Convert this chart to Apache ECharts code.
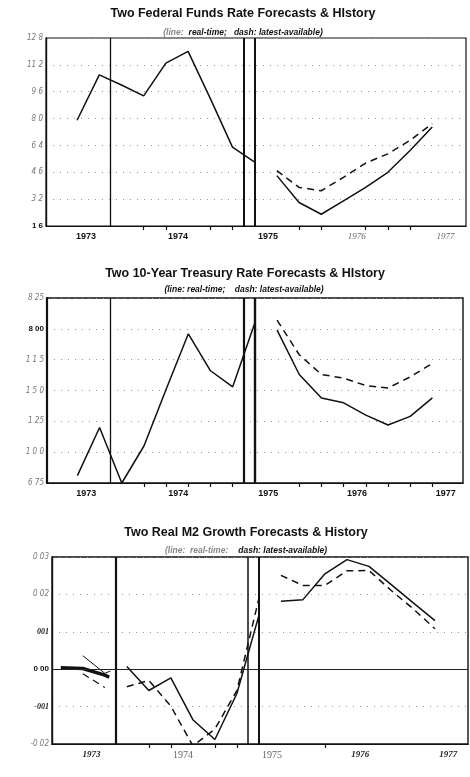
<!DOCTYPE html>
<html>
<head>
<meta charset="utf-8">
<script src="https://cdn.jsdelivr.net/npm/echarts@6/dist/echarts.min.js"></script>
<style>
  html, body { margin: 0; padding: 0; background: #fff; }
  #chart { width: 470px; height: 777px; }
</style>
</head>
<body>
<div id="chart"></div>
<script>
// quarter index: 0 = first quarter shown in 1973
var kHist = [0, 1, 2, 3, 4, 5, 6, 7, 8]
var kFcst = [9, 10, 11, 12, 13, 14, 15, 16]

var yearLabels = ['1973', '1974', '1975', '1976', '1977']
var yearPos = [0.4, 4.55, 8.6, 12.6, 16.6]

// federal funds
var fedTicks = ['1 6', '3 2', '4 6', '6 4', '8 0', '9 6', '11 2', '12 8']
var fedSolidHist = [7.9, 10.6, 10.0, 9.35, 11.3, 12.0, 9.2, 6.3, 5.4]
var fedSolidFcst = [4.6, 3.0, 2.3, 3.1, 3.9, 4.8, 6.1, 7.5]
var fedDashFcst = [4.9, 3.9, 3.7, 4.5, 5.35, 5.9, 6.7, 7.7]

// 10-year treasury
var tsyTicks = ['6 75', '1 0 0', '1 25', '1 5 0', '1 1 5', '8 00', '8 25']
var tsySolidHist = [6.81, 7.2, 6.75, 7.05, 7.51, 7.96, 7.66, 7.53, 8.05]
var tsySolidFcst = [7.99, 7.63, 7.44, 7.4, 7.3, 7.22, 7.29, 7.44]
var tsyDashFcst = [8.07, 7.79, 7.63, 7.6, 7.54, 7.52, 7.61, 7.72]

// real M2 growth
var m2Ticks = ['-0 02', '-001', '0 00', '001', '0 02', '0 03']
var kM2Hist = [2, 3, 4, 5, 6, 7, 8]
var m2SolidHist = [0.0007, -0.0057, -0.0023, -0.0135, -0.0188, -0.0065, 0.0144]
var m2DashHist = [-0.0047, -0.003, -0.0099, -0.0205, -0.016, -0.0057, 0.0189]
var m2SolidFcst = [0.0182, 0.0186, 0.0255, 0.0293, 0.0275, 0.0227, 0.0178, 0.013]
var m2DashFcst = [0.0251, 0.0224, 0.0224, 0.0263, 0.0264, 0.0211, 0.0162, 0.0108]
// scraps in the 1973 box
var kM2Thick = [-1, 0, 1, 1.2]
var m2Thick = [0.0004, 0.0002, -0.0016, -0.0021]
var kM2Thin = [0, 1, 1.25]
var m2Thin = [0.0036, -0.0011, -0.0005]
var kM2Dash0 = [0, 1]
var m2Dash0 = [-0.0012, -0.0049]

var boxLines = [1.5, 7.5, 8]

function zip(ks, vs) { return ks.map((k, i) => [k, vs[i]]) }

var sans = 'Liberation Sans'
var serif = 'Liberation Serif'

var chart = echarts.init(document.getElementById('chart'))

function xAxisFor(idx, min, max, ticks, styles) {
	return {
		type: 'value', gridIndex: idx, min: min, max: max,
		axisLine: { show: true, onZero: false, lineStyle: { color: '#111', width: 1.2 } },
		splitLine: { show: false },
		axisTick: { show: true, customValues: ticks, length: 4, lineStyle: { color: '#111', width: 1.2 } },
		axisLabel: {
			customValues: yearPos, margin: 6,
			formatter: function (v) {
				var i = yearPos.findIndex(p => Math.abs(p - v) < 0.01)
				return '{' + styles[i] + '|' + yearLabels[i] + '}'
			},
			rich: {
				b: { fontFamily: sans, fontWeight: 'bold', fontSize: 9, color: '#111' },
				li: { fontFamily: serif, fontStyle: 'italic', fontSize: 9, color: '#666' },
				bi: { fontFamily: serif, fontStyle: 'italic', fontWeight: 'bold', fontSize: 9, color: '#222' },
				l: { fontFamily: serif, fontSize: 10, color: '#666' }
			}
		}
	}
}

function yAxisFor(idx, min, max, interval, labels, styles) {
	return {
		type: 'value', gridIndex: idx, min: min, max: max, interval: interval,
		axisLine: { show: true, onZero: false, lineStyle: { color: '#111', width: idx == 1 ? 2.2 : 1.4 } },
		axisTick: { show: false },
		splitLine: { show: true, lineStyle: { color: '#999', type: [1, 6], width: 1 } },
		axisLabel: {
			margin: 3,
			formatter: function (v) {
				var i = Math.round((v - min) / interval)
				return '{' + (styles[i] || 'l') + '|' + labels[i] + '}'
			},
			rich: {
				l: { fontFamily: 'DejaVu Sans Condensed', fontStyle: 'italic', fontSize: 8, color: '#777' },
				b: { fontFamily: sans, fontWeight: 'bold', fontSize: 8, color: '#111' },
				bs: { fontFamily: serif, fontStyle: 'italic', fontWeight: 'bold', fontSize: 8, color: '#222' }
			}
		}
	}
}

function vlines(widths) {
	return {
		silent: true, symbol: 'none', label: { show: false },
		data: boxLines.map((x, i) => ({ xAxis: x, lineStyle: { color: '#111', type: 'solid', width: widths[i] } }))
	}
}

function line(idx, data, dashed, width) {
	return {
		type: 'line', xAxisIndex: idx, yAxisIndex: idx, data: data,
		showSymbol: false, symbol: 'none', animation: false,
		lineStyle: { color: '#111', width: width || 1.5, type: dashed ? [7, 5] : 'solid' }
	}
}

var titleStyle = { fontFamily: sans, fontWeight: 'bold', fontSize: 12.5, color: '#111' }
var sub = {
	g: { fontFamily: sans, fontStyle: 'italic', fontSize: 8.5, color: '#888' },
	k: { fontFamily: sans, fontStyle: 'italic', fontWeight: 'bold', fontSize: 8.5, color: '#111' }
}

var s1 = line(0, zip(kHist, fedSolidHist), false)
s1.markLine = vlines([1.3, 2, 2])
var s2 = line(1, zip(kHist, tsySolidHist), false)
s2.markLine = vlines([1.3, 2.2, 2.4])
var s3 = line(2, zip(kM2Hist, m2SolidHist), false)
s3.markLine = vlines([2.2, 1.5, 2])
var zero = line(2, zip(kM2Thin, m2Thin), false, 1)
zero.markLine = {
	silent: true, symbol: 'none', label: { show: false },
	data: [{ yAxis: 0, lineStyle: { color: '#222', type: 'solid', width: 1 } }]
}

function t(text, x, y, style) {
	return { text: text, left: x, top: y, textAlign: 'center', padding: 0, textStyle: style }
}

var option = {
	animation: false,
	backgroundColor: '#fff',
	title: [
		t('Two Federal Funds Rate Forecasts & HIstory', 243, 7, titleStyle),
		t('{g|(line:} {k|real-time;   dash: latest-available)}', 243, 24, { rich: sub }),
		t('Two 10-Year Treasury Rate Forecasts & HIstory', 245, 267, titleStyle),
		t('{k|(line: real-time;    dash: latest-available)}', 244, 285, { rich: sub }),
		t('Two Real M2 Growth Forecasts & History', 246, 526, titleStyle),
		t('{g|(line:  real-time:}  {k|dash: latest-available)}', 246, 542, { rich: sub })
	],
	grid: [
		{ left: 46, top: 38, width: 420, height: 188, show: true, borderColor: '#111', borderWidth: 1.2, backgroundColor: 'transparent' },
		{ left: 47, top: 298, width: 416, height: 185, show: true, borderColor: '#111', borderWidth: 1.4, backgroundColor: 'transparent' },
		{ left: 52, top: 557, width: 416, height: 187, show: true, borderColor: '#111', borderWidth: 1.4, backgroundColor: 'transparent' }
	],
	xAxis: [
		xAxisFor(0, -1.4, 17.52, [3, 4, 6, 7, 10, 11, 13, 14, 15], ['b', 'b', 'b', 'li', 'li']),
		xAxisFor(1, -1.37, 17.38, [3, 4, 5, 6, 7, 10, 11, 12, 13, 14, 15, 16], ['b', 'b', 'b', 'b', 'b']),
		xAxisFor(2, -1.4, 17.5, [3, 4, 6, 7, 11], ['bi', 'l', 'l', 'bi', 'bi'])
	],
	yAxis: [
		yAxisFor(0, 1.6, 12.8, 1.6, fedTicks, ['b']),
		yAxisFor(1, 6.75, 8.25, 0.25, tsyTicks, ['l', 'l', 'l', 'l', 'l', 'b', 'l']),
		yAxisFor(2, -0.02, 0.03, 0.01, m2Ticks, ['l', 'bs', 'b', 'bs', 'l', 'l'])
	],
	series: [
		s1,
		line(0, zip(kFcst, fedSolidFcst), false),
		line(0, zip(kFcst, fedDashFcst), true),
		s2,
		line(1, zip(kFcst, tsySolidFcst), false),
		line(1, zip(kFcst, tsyDashFcst), true),
		s3,
		line(2, zip(kM2Hist, m2DashHist), true),
		line(2, zip(kFcst, m2SolidFcst), false),
		line(2, zip(kFcst, m2DashFcst), true),
		line(2, zip(kM2Thick, m2Thick), false, 3.5),
		zero,
		line(2, zip(kM2Dash0, m2Dash0), true, 1.2)
	]
}

chart.setOption(option)
</script>
</body>
</html>
